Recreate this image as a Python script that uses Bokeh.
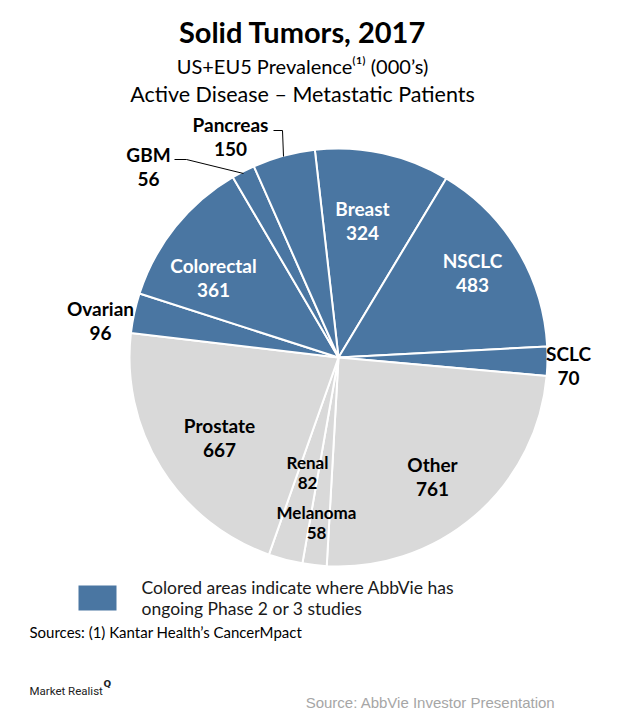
import math
from bokeh.plotting import figure
from bokeh.models import Range1d, ColumnDataSource
from bokeh.core.properties import value
from bokeh.embed import file_html
from bokeh.resources import INLINE

# ---- data ----
categories = ["Breast", "NSCLC", "SCLC", "Other", "Melanoma", "Renal",
              "Prostate", "Ovarian", "Colorectal", "GBM", "Pancreas"]
prevalence = [324, 483, 70, 761, 58, 82, 667, 96, 361, 56, 150]
abbvie_active = [True, True, True, False, False, False, False, True, True, True, True]

# ---- layout (page pixel coords, converted below) ----
W, H = 612, 716
BLUE = "#4a76a2"
GREY = "#d9d9d9"
FONT = "Lato"


def X(px):
    return px


def Y(py):
    return H - py


CX, CY, R = 338, 357, 209
START_DEG = 96.5

p = figure(width=W, height=H, output_backend="svg", toolbar_location=None,
           x_range=Range1d(0, W), y_range=Range1d(0, H), min_border=0)
p.axis.visible = False
p.grid.visible = False
p.outline_line_color = None
p.background_fill_color = "white"

total = sum(prevalence)
starts, ends, colors = [], [], []
cum = 0
for v, act in zip(prevalence, abbvie_active):
    a0 = math.radians(START_DEG - (cum + v) / total * 360)
    a1 = math.radians(START_DEG - cum / total * 360)
    starts.append(a0)
    ends.append(a1)
    colors.append(BLUE if act else GREY)
    cum += v

src = ColumnDataSource(dict(start=starts, end=ends, color=colors, cat=categories, val=prevalence))
p.wedge(x=X(CX), y=Y(CY), radius=R, start_angle="start", end_angle="end",
        fill_color="color", line_color="white", line_width=2, source=src)

# ---- slice labels (page pixel positions of label centres) ----
label_pos = {
    "Breast": (362, 220, "white", 19),
    "NSCLC": (472, 272, "white", 19),
    "SCLC": (568, 365, "black", 19),
    "Other": (432, 476, "black", 19),
    "Melanoma": (316, 522, "black", 17),
    "Renal": (307, 472, "black", 17),
    "Prostate": (219, 437, "black", 19),
    "Ovarian": (100, 320, "black", 19),
    "Colorectal": (213, 277, "white", 19),
    "GBM": (148, 166, "black", 19),
    "Pancreas": (230, 136, "black", 19),
}
for cat, v in zip(categories, prevalence):
    px, py, col, fs = label_pos[cat]
    gap = 12.5 if fs == 19 else 10.5
    p.text(x=[X(px)], y=[Y(py - gap)], text=[cat], text_align="center",
           text_baseline="middle", text_font=value(FONT), text_font_style="bold",
           text_font_size=f"{fs}px", text_color=col)
    p.text(x=[X(px)], y=[Y(py + gap)], text=[str(v)], text_align="center",
           text_baseline="middle", text_font=value(FONT), text_font_style="bold",
           text_font_size=f"{fs}px", text_color=col)

# leader lines
p.line(x=[X(174), X(186), X(243)], y=[Y(159), Y(159), Y(173)], line_color="black", line_width=1)
p.line(x=[X(273), X(282), X(283)], y=[Y(130), Y(130), Y(156)], line_color="black", line_width=1)

# ---- titles ----
p.text(x=[X(302)], y=[Y(31)], text=["Solid Tumors, 2017"], text_align="center",
       text_baseline="middle", text_font=value(FONT), text_font_style="bold",
       text_font_size="29px", text_color="black")
p.text(x=[X(302)], y=[Y(65)], text=["US+EU5 Prevalence\u207d\u00b9\u207e (000\u2019s)"], text_align="center",
       text_baseline="middle", text_font=value(FONT), text_font_size="20px", text_color="black")
p.text(x=[X(302)], y=[Y(93)], text=["Active Disease \u2013 Metastatic Patients"], text_align="center",
       text_baseline="middle", text_font=value(FONT), text_font_size="21.5px", text_color="black")

# ---- legend ----
p.quad(left=X(78), right=X(116), top=Y(585), bottom=Y(610), fill_color=BLUE, line_color=None)
p.text(x=[X(141)], y=[Y(587)], text=["Colored areas indicate where AbbVie has"], text_align="left",
       text_baseline="middle", text_font=value(FONT), text_font_size="17.5px", text_color="#1a1a1a")
p.text(x=[X(141)], y=[Y(608)], text=["ongoing Phase 2 or 3 studies"], text_align="left",
       text_baseline="middle", text_font=value(FONT), text_font_size="17.5px", text_color="#1a1a1a")

p.text(x=[X(29)], y=[Y(631)], text=["Sources:  (1) Kantar Health\u2019s CancerMpact"], text_align="left",
       text_baseline="middle", text_font=value(FONT), text_font_size="15px", text_color="black")

p.text(x=[X(29)], y=[Y(690)], text=["Market Realist"], text_align="left",
       text_baseline="middle", text_font=value("Roboto"), text_font_size="11.5px",
       text_color="#222222")
p.text(x=[X(103)], y=[Y(683)], text=["Q"], text_align="left",
       text_baseline="middle", text_font=value("DejaVu Sans"), text_font_style="bold",
       text_font_size="9px", text_color="#222222")
p.text(x=[X(555)], y=[Y(702)], text=["Source: AbbVie Investor Presentation"], text_align="right",
       text_baseline="middle", text_font=value("Liberation Sans"), text_font_size="15px",
       text_color="#a6a6a6")

open("out.html", "w").write(file_html(p, INLINE))
